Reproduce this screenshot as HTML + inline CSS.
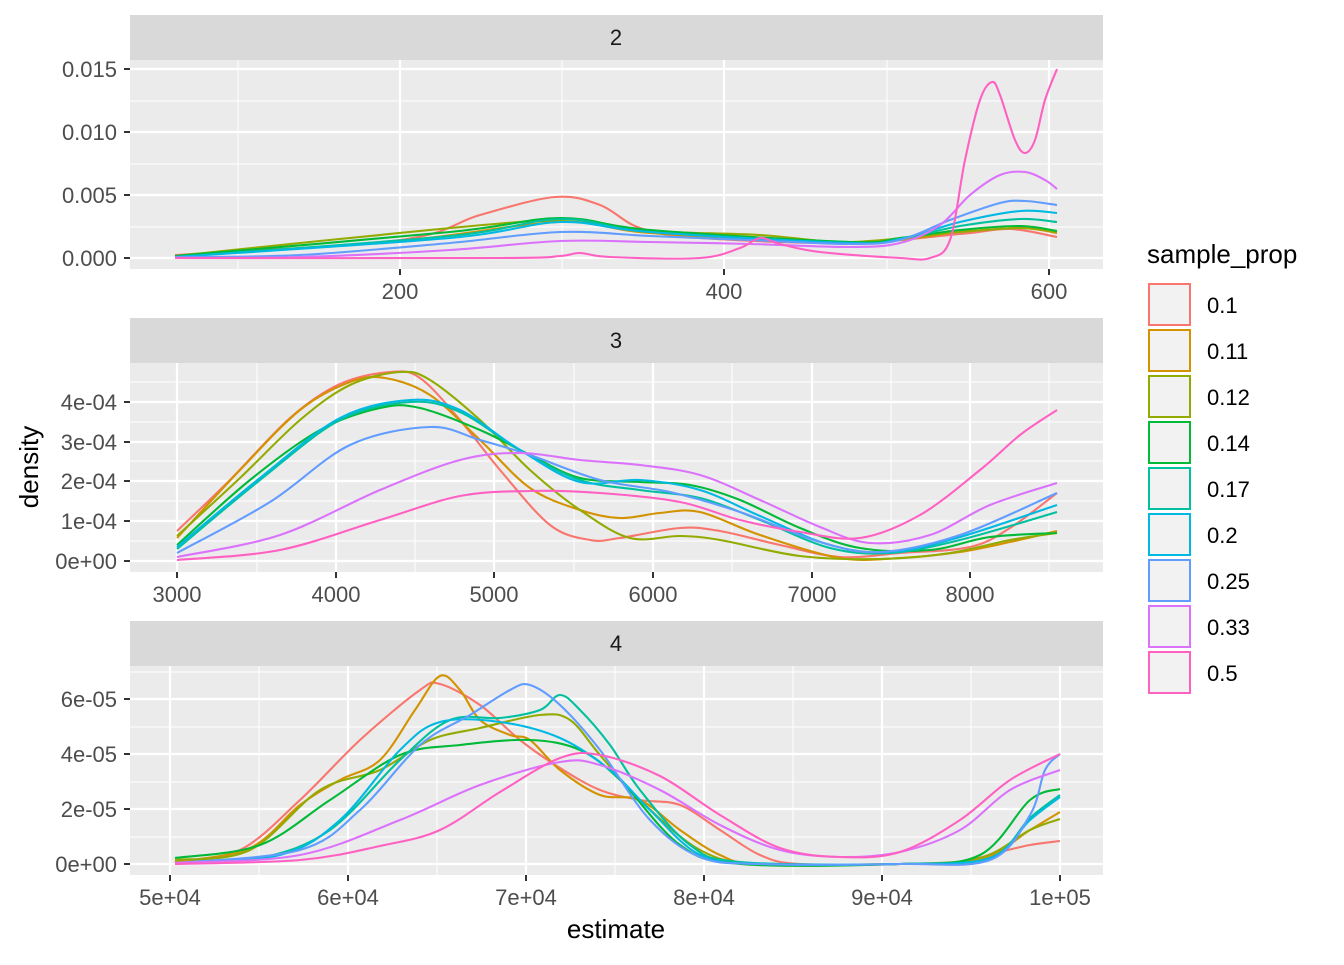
<!DOCTYPE html>
<html><head><meta charset="utf-8"><style>
body{margin:0;background:#fff}
svg text{font-family:"Liberation Sans",sans-serif}
</style></head><body>
<svg id="s" width="1344" height="960" xmlns="http://www.w3.org/2000/svg"></svg>
<script>
const S=document.getElementById('s');let h='';
const cols=['#F8766D','#D39200','#93AA00','#00BA38','#00C19F','#00B9E3','#619CFF','#DB72FB','#FF61C3'];
const labs=['0.1','0.11','0.12','0.14','0.17','0.2','0.25','0.33','0.5'];
function cr(p){let d='M'+p[0][0]+','+p[0][1];for(let i=0;i<p.length-1;i++){const a=p[i-1]||p[i],b=p[i],c=p[i+1],e=p[i+2]||c;d+=' C'+(b[0]+(c[0]-a[0])/6).toFixed(1)+','+(b[1]+(c[1]-a[1])/6).toFixed(1)+' '+(c[0]-(e[0]-b[0])/6).toFixed(1)+','+(c[1]-(e[1]-b[1])/6).toFixed(1)+' '+c[0]+','+c[1];}return d;}
function panel(top,title,xmaj,xmin,ymaj,ymin,xl,yl,curves){
 const pt=top+45,pb=pt+209;
 h+=`<rect x="130" y="${top}" width="973" height="45" fill="#D9D9D9"/><text x="616" y="${top+30}" font-size="22" fill="#1A1A1A" text-anchor="middle">${title}</text>`;
 h+=`<rect x="130" y="${pt}" width="973" height="209" fill="#EBEBEB"/>`;
 ymin.forEach(y=>h+=`<line x1="130" x2="1103" y1="${y}" y2="${y}" stroke="#fff" stroke-width="1"/>`);
 xmin.forEach(x=>h+=`<line y1="${pt}" y2="${pb}" x1="${x}" x2="${x}" stroke="#fff" stroke-width="1"/>`);
 ymaj.forEach((y,i)=>{h+=`<line x1="130" x2="1103" y1="${y}" y2="${y}" stroke="#fff" stroke-width="2.2"/><line x1="124" x2="130" y1="${y}" y2="${y}" stroke="#333" stroke-width="2"/><text x="117" y="${y+8}" font-size="22" fill="#4D4D4D" text-anchor="end">${yl[i]}</text>`;});
 xmaj.forEach((x,i)=>{h+=`<line y1="${pt}" y2="${pb}" x1="${x}" x2="${x}" stroke="#fff" stroke-width="2.2"/><line y1="${pb}" y2="${pb+6}" x1="${x}" x2="${x}" stroke="#333" stroke-width="2"/><text x="${x}" y="${pb+30}" font-size="22" fill="#4D4D4D" text-anchor="middle">${xl[i]}</text>`;});
 curves.forEach((c,i)=>h+=`<path d="${cr(c)}" fill="none" stroke="${cols[i]}" stroke-width="2.1"/>`);
}
panel(15,'2',[400,724,1049],[238,562,887],[258,195,132,69],[227,164,101],['200','400','600'],['0.000','0.005','0.010','0.015'],[
[[175,255],[400,240],[480,215],[555,197],[600,205],[640,228],[700,238],[850,243],[960,234],[1010,229],[1057,237]],
[[175,256],[400,241],[560,222],[650,233],[850,243],[960,232],[1020,228],[1057,233]],
[[175,256],[450,228],[560,221],[650,231],[760,235],[850,242],[960,232],[1020,228],[1057,232]],
[[175,256],[450,232],[560,218],[650,230],[850,242],[900,238],[960,230],[1020,226],[1057,231]],
[[175,257],[450,236],[560,219],[650,232],[850,243],[900,239],[960,226],[1020,219],[1057,222]],
[[175,257],[450,238],[560,222],[650,232],[850,243],[900,239],[960,222],[1020,211],[1057,213]],
[[175,257],[300,255],[450,243],[560,232],[650,236],[750,240],[850,244],[900,240],[950,220],[1000,203],[1025,201],[1057,205]],
[[175,258],[300,257],[450,250],[560,241],[650,242],[750,244],[850,247],[900,243],[940,225],[970,195],[1000,175],[1025,172],[1045,180],[1057,189]],
[[175,258],[500,258],[560,256],[580,253],[610,257],[700,258],[740,248],[760,238],[780,244],[820,252],[900,258],[930,258],[950,240],[965,160],[980,100],[992,82],[1000,95],[1015,140],[1025,153],[1035,140],[1045,100],[1057,69]]
]);
panel(318,'3',[177,336,494,653,812,970],[257,415,574,732,891,1049],[561,521,481,442,402],[541,501,461,422,382],['3000','4000','5000','6000','7000','8000'],['0e+00','1e-04','2e-04','3e-04','4e-04'],[
[[177,531],[230,480],[290,418],[340,384],[390,372],[420,378],[460,420],[500,470],[550,525],[590,540],[620,538],[680,528],[720,531],[780,545],[840,557],[900,553],[970,547],[1010,528],[1057,493]],
[[177,538],[240,470],[300,410],[350,382],[385,378],[430,395],[480,440],[530,488],[580,510],[620,518],[660,513],[700,512],[760,535],[840,558],[900,558],[960,552],[1010,542],[1057,531]],
[[177,536],[240,478],[300,420],[350,385],[400,372],[430,380],[480,420],[530,470],[580,510],[630,538],[680,536],[720,540],[800,556],[880,559],[950,553],[1010,540],[1057,533]],
[[177,545],[250,480],[320,430],[380,408],[420,408],[480,430],[530,455],[580,478],[640,482],[690,485],[740,500],[800,528],[860,548],[930,550],[990,537],[1057,533]],
[[177,549],[260,480],[340,420],[410,402],[460,412],[520,450],[580,480],[640,490],[700,498],[760,520],[830,548],[890,553],[960,540],[1057,512]],
[[177,547],[260,478],[340,418],[410,400],[460,410],[520,450],[580,482],[640,480],[700,490],[760,516],[830,545],[890,552],[960,537],[1057,505]],
[[177,553],[270,502],[350,445],[430,427],[480,440],[530,455],[600,480],[670,492],[740,512],[820,542],[880,552],[960,535],[1057,493]],
[[177,557],[280,535],[380,490],[460,460],[520,453],[580,460],[640,465],[700,475],[760,500],[820,527],[870,543],[930,535],[990,505],[1057,483]],
[[177,560],[280,550],[380,520],[460,496],[530,491],[600,493],[680,502],[740,520],[800,532],[860,538],[920,515],[980,470],[1020,435],[1057,410]]
]);
panel(621,'4',[170,348,526,704,882,1060],[259,437,615,793,971],[864,809,754,699],[837,782,727,672],['5e+04','6e+04','7e+04','8e+04','9e+04','1e+05'],['0e+00','2e-05','4e-05','6e-05'],[
[[175,862],[240,850],[300,800],[360,740],[420,690],[440,684],[480,705],[520,740],[560,768],[600,790],[640,800],[680,805],[720,830],[760,855],[800,864],[900,864],[960,862],[1000,852],[1030,845],[1060,841]],
[[175,862],[250,848],[300,805],[340,780],[380,760],[415,710],[440,676],[460,690],[480,720],[510,735],[530,740],[560,770],[600,795],[640,800],[680,830],[720,855],[760,864],[900,864],[980,860],[1030,830],[1060,812]],
[[175,860],[250,850],[320,790],[380,770],[430,740],[480,728],[540,715],[570,720],[600,755],[640,800],[700,850],[760,864],[900,864],[980,858],[1030,830],[1060,819]],
[[175,858],[260,845],[330,800],[400,755],[460,745],[530,740],[580,750],[620,780],[680,845],[740,864],[900,864],[980,855],[1030,800],[1060,789]],
[[175,863],[260,858],[330,830],[400,760],[450,720],[500,718],[540,710],[560,695],[580,710],[610,745],[640,790],[690,845],[740,862],[900,864],[990,858],[1030,818],[1060,795]],
[[175,863],[280,855],[340,820],[400,750],[440,722],[500,722],[560,738],[610,770],[650,810],[700,855],[760,864],[900,864],[990,858],[1030,820],[1060,797]],
[[175,863],[300,850],[360,810],[420,745],[470,715],[510,690],[530,685],[560,705],[600,750],[650,820],[700,857],[760,864],[900,864],[990,860],[1030,815],[1045,770],[1060,754]],
[[175,863],[300,855],[400,820],[480,785],[560,762],[600,765],[660,790],[720,825],[780,850],[840,857],[900,852],[960,830],[1010,790],[1060,770]],
[[175,864],[300,860],[380,846],[440,830],[500,792],[560,758],[600,755],[660,776],[720,815],[780,848],[840,857],[900,852],[960,820],[1010,780],[1060,754]]
]);
h+=`<text x="616" y="938" font-size="26" fill="#000" text-anchor="middle">estimate</text>`;
h+=`<text transform="translate(38,467) rotate(-90)" font-size="26" fill="#000" text-anchor="middle">density</text>`;
h+=`<text x="1147" y="263" font-size="26" fill="#000">sample_prop</text>`;
labs.forEach((l,i)=>{const y=283+i*46;h+=`<rect x="1148" y="${y}" width="43" height="43" fill="#F2F2F2"/><rect x="1149" y="${y+1}" width="41" height="41" fill="none" stroke="${cols[i]}" stroke-width="2"/><text x="1207" y="${y+30}" font-size="22" fill="#000">${l}</text>`;});
S.innerHTML=h;
</script>
</body></html>
